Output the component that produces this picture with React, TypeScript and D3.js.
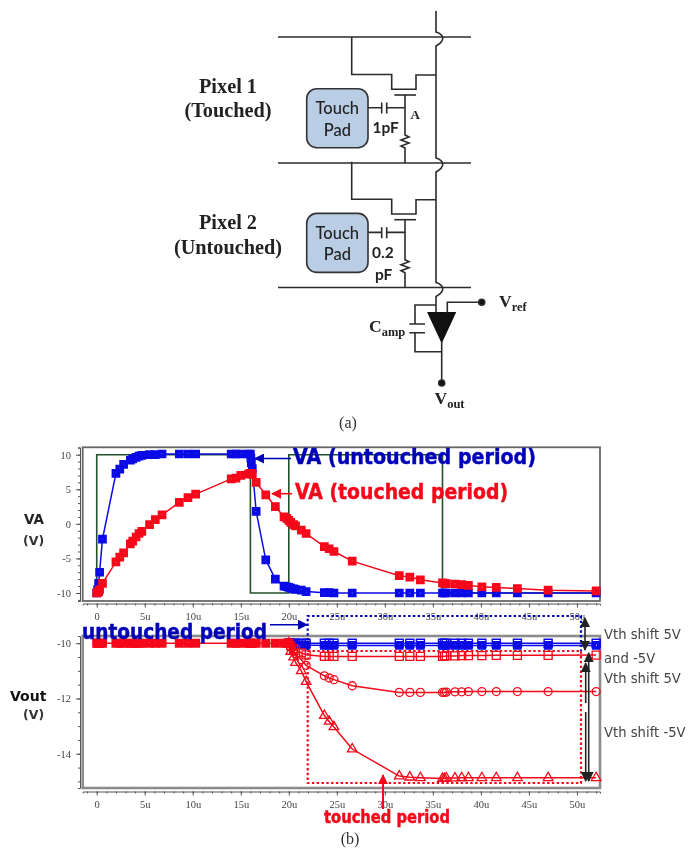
import React, { useEffect, useRef } from 'react';
import * as d3 from 'd3';

// sample times (microseconds), shared by all simulated traces
const times = [0, 0.1, 0.2, 0.3, 0.6, 2, 2.4, 2.8, 3.5, 3.75, 4.1, 4.4, 4.7, 5.5, 6.1, 6.8, 8.6, 9.5, 10.3, 14, 14.5, 15, 15.8, 16, 16.05, 16.1, 16.2, 16.6, 17.6, 18.6, 19.5, 19.8, 20, 20.2, 20.5, 20.7, 21.3, 21.8, 23.7, 24.2, 24.7, 26.6, 31.5, 32.6, 33.7, 36, 36.2, 36.4, 37.3, 38, 38.7, 40.1, 41.6, 43.8, 47, 52];

const vaUntouched = [-10, -9.5, -8.6, -7, -2.2, 7.3, 7.9, 8.6, 9.2, 9.4, 9.6, 9.8, 9.9, 10, 10, 10.1, 10.1, 10.1, 10.1, 10.1, 10.1, 10.1, 10.1, 10.1, 9.5, 8.8, 8, 1.8, -5.2, -8, -9, -9.1, -9.2, -9.3, -9.4, -9.5, -9.6, -9.8, -9.95, -9.95, -10, -10, -10, -10, -10, -10, -10, -10, -10, -10, -10, -10, -10, -10, -10, -10];
const vaTouched = [-10, -9.9, -9.8, -9.5, -8.6, -5.5, -4.8, -4.2, -2.9, -2.5, -1.9, -1.4, -1.1, -0.1, 0.6, 1.3, 3.1, 3.8, 4.3, 6.5, 6.6, 7, 7.2, 7.3, 7.3, 7.3, 7.2, 6, 4.2, 2.5, 1, 0.8, 0.5, 0.2, -0.1, -0.3, -0.9, -1.4, -3.3, -3.6, -4, -5.4, -7.5, -7.7, -8.1, -8.55, -8.6, -8.65, -8.7, -8.8, -8.9, -9.1, -9.2, -9.35, -9.6, -9.7];
const pulseTimes = [0, 0, 16, 16, 20, 20, 36, 36, 52.4];
const pulseValues = [-10, 10, 10, -10, -10, 10, 10, -10, -10];

// Vout holds at -10 V until the 20u edge; these start at that edge
const settleTimes = times.filter((t) => t >= 20);
const holdTimes = times.filter((t) => t < 20);
const voutBlueTop = [-10, -10, -10, -10, -10, -10, -10, -10, -10, -10, -10, -10, -10, -10, -10, -10, -10, -10, -10, -10, -10, -10, -10, -10];
const voutBlueLow = [-10, -10.02, -10.04, -10.05, -10.06, -10.07, -10.08, -10.08, -10.08, -10.08, -10.08, -10.08, -10.08, -10.08, -10.08, -10.08, -10.08, -10.08, -10.08, -10.08, -10.08, -10.08, -10.08, -10.08];
const voutRedSquare = [-10, -10.1, -10.2, -10.25, -10.35, -10.42, -10.48, -10.48, -10.48, -10.48, -10.48, -10.48, -10.48, -10.48, -10.47, -10.46, -10.46, -10.45, -10.45, -10.45, -10.44, -10.44, -10.44, -10.43];
const voutRedCircle = [-10, -10.15, -10.3, -10.4, -10.6, -10.8, -11.18, -11.26, -11.32, -11.54, -11.78, -11.78, -11.78, -11.78, -11.78, -11.77, -11.76, -11.76, -11.75, -11.75, -11.75, -11.75, -11.75, -11.75];
const voutRedTriangle = [-10, -10.3, -10.5, -10.7, -11, -11.39, -12.62, -12.83, -13.03, -13.83, -14.81, -14.85, -14.87, -14.9, -14.9, -14.88, -14.88, -14.87, -14.87, -14.87, -14.87, -14.87, -14.87, -14.87];

const xTicks = [0, 5, 10, 15, 20, 25, 30, 35, 40, 45, 50];
const xMinorTicks = d3.range(-1, 53);
const vaTicks = [10, 5, 0, -5, -10];
const vaMinorTicks = d3.range(-11, 12);
const voutTicks = [-10, -12, -14];
const voutMinorTicks = [-10, -10.5, -11, -11.5, -12, -12.5, -13, -13.5, -14, -14.5, -15];

const BLUE = '#0a0ae6';
const LABEL_BLUE = '#0000b8';
const RED = '#f5081a';
const WIRE = '#2b2b2b';
const SERIF = '"Liberation Serif", serif';
const BOLD_SANS = '"DejaVu Sans", sans-serif';

export default function App() {
  const ref = useRef<SVGSVGElement | null>(null);

  useEffect(() => {
    const svg = d3.select(ref.current);
    svg.selectAll('*').remove();

    const defs = svg.append('defs');
    [['blueHead', LABEL_BLUE], ['redHead', RED], ['blackHead', '#222']].forEach(([id, c]) => {
      defs.append('marker').attr('id', id).attr('viewBox', '0 0 10 10').attr('refX', 9).attr('refY', 5)
        .attr('markerWidth', 10).attr('markerHeight', 10).attr('markerUnits', 'userSpaceOnUse')
        .attr('orient', 'auto-start-reverse')
        .append('path').attr('d', 'M0 0L10 5L0 10Z').attr('fill', c);
    });

    drawSchematic(svg);

    const x = d3.scaleLinear().domain([-1.46, 52.4]).range([82.7, 600]);
    const yVa = d3.scaleLinear().domain([-11.16, 11.07]).range([601, 447.3]);
    const yOut = d3.scaleLinear().domain([-15.24, -9.74]).range([788, 636]);

    const frame = (y: d3.ScaleLinear<number, number>, ticks: number[], minor: number[], axisY: number, c: string, w: number) => {
      const [b, t] = y.range();
      svg.append('rect').attr('x', 82.7).attr('y', t).attr('width', 517.3).attr('height', b - t)
        .attr('fill', '#fff').attr('stroke', c).attr('stroke-width', w);

      const gx = svg.append('g').attr('transform', `translate(0,${axisY})`);
      gx.call(d3.axisBottom(x).tickValues(xMinorTicks).tickSize(2).tickFormat(() => ''));
      const gxMajor = svg.append('g').attr('transform', `translate(0,${axisY})`);
      gxMajor.call(d3.axisBottom(x).tickValues(xTicks).tickSize(4)
        .tickFormat((v) => (+v === 0 ? '0' : `${v}u`)));
      gxMajor.select('.domain').remove();
      gxMajor.selectAll('text').attr('dy', 9).attr('font-family', SERIF).attr('font-size', 10.5).attr('fill', '#444');
      [gx, gxMajor].forEach((g) => g.selectAll('.domain,.tick line').attr('stroke', '#555'));

      const gy = svg.append('g').attr('transform', 'translate(80,0)');
      gy.call(d3.axisLeft(y).tickValues(minor.filter((v) => y(v) > t && y(v) < b)).tickSize(2).tickFormat(() => ''));
      const gyMajor = svg.append('g').attr('transform', 'translate(80,0)');
      gyMajor.call(d3.axisLeft(y).tickValues(ticks).tickSize(4).tickPadding(5));
      gyMajor.select('.domain').remove();
      gyMajor.selectAll('text').attr('font-family', SERIF).attr('font-size', 10.5).attr('fill', '#444')
        .text((v: any) => `${v}`);
      [gy, gyMajor].forEach((g) => g.selectAll('.domain,.tick line').attr('stroke', '#555'));
    };

    frame(yVa, vaTicks, vaMinorTicks, 603.5, '#666', 1.8);
    frame(yOut, voutTicks, voutMinorTicks, 791.5, '#8c8c8c', 2.6);

    const lineOf = (y: d3.ScaleLinear<number, number>) =>
      d3.line<[number, number]>().x((d) => x(d[0])).y((d) => y(d[1]));

    const trace = (y: d3.ScaleLinear<number, number>, ts: number[], values: number[], color: string, shape: d3.SymbolType, size: number, sw: number) => {
      const pts = ts.map((t, i) => [t, values[i]] as [number, number]);
      svg.append('path').attr('d', lineOf(y)(pts)).attr('fill', 'none').attr('stroke', color).attr('stroke-width', 1.5);
      const sym = d3.symbol().type(shape).size(size)();
      svg.append('g').selectAll('path').data(pts).join('path')
        .attr('d', sym)
        .attr('transform', (d) => `translate(${x(d[0])},${y(d[1])})`)
        .attr('fill', 'none').attr('stroke', color).attr('stroke-width', sw);
    };

    // VA panel
    svg.append('path')
      .attr('d', lineOf(yVa)(pulseTimes.map((t, i) => [t, pulseValues[i]] as [number, number])))
      .attr('fill', 'none').attr('stroke', '#22522a').attr('stroke-width', 1.6);
    trace(yVa, times, vaUntouched, BLUE, d3.symbolSquare, 25, 3.7);
    trace(yVa, times, vaTouched, RED, d3.symbolSquare, 25, 3.7);

    // Vout panel
    trace(yOut, settleTimes, voutBlueLow, BLUE, d3.symbolSquare, 25, 3.7);
    trace(yOut, settleTimes, voutBlueTop, BLUE, d3.symbolSquare, 64, 1.4);
    trace(yOut, settleTimes, voutRedSquare, RED, d3.symbolSquare, 64, 1.3);
    trace(yOut, settleTimes, voutRedCircle, RED, d3.symbolCircle, 50, 1.3);
    trace(yOut, settleTimes, voutRedTriangle, RED, d3.symbolTriangle, 40, 1.3);
    trace(yOut, holdTimes, holdTimes.map(() => -10), RED, d3.symbolSquare, 25, 4);

    // period boxes
    const dotted = (d: string, c: string) =>
      svg.append('path').attr('d', d).attr('fill', 'none').attr('stroke', c).attr('stroke-width', 2.2).attr('stroke-dasharray', '2.4 2.4');
    dotted('M307.7 650V616H581V651', LABEL_BLUE);
    dotted('M307.7 651H581V783H307.7V651', RED);

    // annotations
    const ann = (px: number, py: number, s: string, fill: string, size: number, weight = 'bold', family = BOLD_SANS, anchor = 'start', tl?: number) => {
      const el = svg.append('text').attr('x', px).attr('y', py).attr('fill', fill).attr('font-size', size)
        .attr('font-weight', weight).attr('font-family', family).attr('text-anchor', anchor).text(s);
      if (tl) el.attr('textLength', tl).attr('lengthAdjust', 'spacingAndGlyphs').attr('stroke', fill).attr('stroke-width', 0.5);
      return el;
    };
    ann(293, 464, 'VA (untouched period)', LABEL_BLUE, 22, 'bold', BOLD_SANS, 'start', 243);
    ann(295, 499, 'VA (touched period)', RED, 22, 'bold', BOLD_SANS, 'start', 213);
    ann(82, 639, 'untouched period', LABEL_BLUE, 22, 'bold', BOLD_SANS, 'start', 185);
    ann(324, 823, 'touched period', RED, 17.5, 'bold', BOLD_SANS, 'start', 126);

    const arrow = (d: string, c: string, head: string, both = false, w = 1.6) => {
      const p = svg.append('path').attr('d', d).attr('fill', 'none').attr('stroke', c).attr('stroke-width', w)
        .attr('marker-end', `url(#${head})`);
      if (both) p.attr('marker-start', `url(#${head})`);
    };
    arrow('M291 458.5H255', LABEL_BLUE, 'blueHead');
    arrow('M292 493.7H272', RED, 'redHead');
    arrow('M270 624.7H307', LABEL_BLUE, 'blueHead');
    arrow('M383 809V775', RED, 'redHead', false, 2);
    arrow('M585 618V650', '#222', 'blackHead', true);
    arrow('M585.7 663V781', '#222', 'blackHead', true);
    arrow('M588.7 653V781', '#222', 'blackHead', true);
    svg.append('rect').attr('x', 583).attr('y', 703).attr('width', 4.5).attr('height', 9).attr('fill', '#fff');

    ann(24, 524, 'VA', '#222', 13.5);
    ann(23, 545, '(V)', '#333', 12.5);
    ann(10, 700.5, 'Vout', '#111', 14);
    ann(23, 719, '(V)', '#333', 12.5);

    const SIDE = '#444';
    ann(604, 639, 'Vth shift 5V', SIDE, 13.2, 'normal');
    ann(604, 662.7, 'and -5V', SIDE, 13.2, 'normal');
    ann(604, 682.7, 'Vth shift 5V', SIDE, 13.2, 'normal');
    ann(604, 737.3, 'Vth shift -5V', SIDE, 13.2, 'normal');

    ann(350, 844, '(b)', '#333', 16, 'normal', SERIF, 'middle');
  }, []);

  return (
    <svg
      ref={ref}
      width={690}
      height={849}
      viewBox="0 0 690 849"
      style={{ position: 'absolute', left: 0, top: 0, display: 'block', background: '#fff', filter: 'blur(0.45px)' }}
    />
  );
}

function drawSchematic(svg: d3.Selection<any, unknown, null, undefined>) {
  const g = svg.append('g').attr('fill', 'none').attr('stroke', WIRE).attr('stroke-width', 1.6);
  const wire = (d: string) => g.append('path').attr('d', d);
  const label = (x: number, y: number, s: string, size: number, family: string, weight = 'bold', anchor = 'start', fill = '#222') =>
    svg.append('text').attr('x', x).attr('y', y).attr('font-size', size).attr('font-family', family)
      .attr('font-weight', weight).attr('text-anchor', anchor).attr('fill', fill).text(s);

  // rows and the data line with its hops
  [37, 163, 287.5].forEach((y) => wire(`M278 ${y}H471`));
  const hop = (y: number) => `V${y - 5} C445 ${y - 2},445 ${y + 4},436 ${y + 9}`;
  wire(`M436 11${hop(37)}${hop(163)}${hop(287.5)}V313`);

  [0, 124.7].forEach((dy) => {
    wire(`M351.7 ${37 + dy}V${74.5 + dy}H391.7V${89.3 + dy}H416V${75 + dy}H436`);
    wire(`M394.3 ${95 + dy}H416`);
    wire(`M405 ${95 + dy}V${135 + dy}l4 2l-8 3l8 3l-8 3l4 2V${163 + dy}`);
    wire(`M368 ${107.7 + dy}H381.7M381.7 ${102.5 + dy}V${113.5 + dy}M386.7 ${102.5 + dy}V${113.5 + dy}M386.7 ${107.7 + dy}H405`);
    g.append('rect').attr('x', 306.7).attr('y', 88.7 + dy).attr('width', 61.3).attr('height', 59)
      .attr('rx', 10).attr('fill', '#b9cde5').attr('stroke', '#333');
    label(337.3, 114 + dy, 'Touch', 16.5, 'Lato, sans-serif', '500', 'middle');
    label(337.3, 135.5 + dy, 'Pad', 16.5, 'Lato, sans-serif', '500', 'middle');
  });

  label(228, 92.7, 'Pixel 1', 20.3, SERIF, 'bold', 'middle');
  label(228, 117, '(Touched)', 20.3, SERIF, 'bold', 'middle');
  label(228, 229, 'Pixel 2', 20.3, SERIF, 'bold', 'middle');
  label(228, 254, '(Untouched)', 20.3, SERIF, 'bold', 'middle');
  label(372.5, 132.7, '1pF', 15.5, 'Lato, sans-serif');
  label(410.5, 119, 'A', 13, SERIF);
  label(372, 258, '0.2', 15.5, 'Lato, sans-serif');
  label(375, 280, 'pF', 15.5, 'Lato, sans-serif');

  // amplifier
  g.append('path').attr('d', 'M428.3 312.7H455L441.7 341.7Z').attr('fill', '#111').attr('stroke', '#111');
  wire('M436 305H415V324M409.3 324H425M409.3 332.7H425M415 332.7V351.7H441.7M441.7 341V383');
  wire('M447.3 312.7V302.3H481.7');
  g.append('circle').attr('cx', 481.7).attr('cy', 302.3).attr('r', 3).attr('fill', '#111');
  g.append('circle').attr('cx', 441.7).attr('cy', 383).attr('r', 3).attr('fill', '#111');

  const sub = (x: number, y: number, a: string, b: string) => {
    const t = label(x, y, a, 17.5, SERIF);
    t.append('tspan').attr('dy', 4).attr('font-size', 12.5).text(b);
  };
  sub(499, 306.7, 'V', 'ref');
  sub(369, 332, 'C', 'amp');
  sub(434.5, 404, 'V', 'out');

  label(348, 428, '(a)', 16, SERIF, 'normal', 'middle', '#333');
}
